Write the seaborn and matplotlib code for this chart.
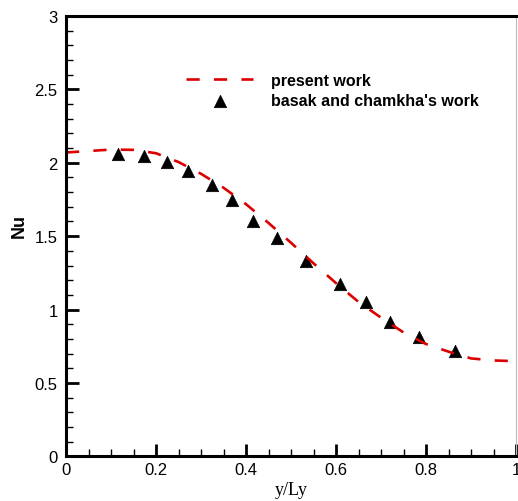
import matplotlib
matplotlib.use('Agg')
import matplotlib.pyplot as plt
from matplotlib.ticker import MultipleLocator
import seaborn as sns

# present work: Nu along the wall (dashed curve)
present_x = [0.0, 0.05, 0.1, 0.15, 0.2, 0.25, 0.3, 0.35, 0.4, 0.45, 0.5,
             0.55, 0.6, 0.65, 0.7, 0.75, 0.8, 0.85, 0.9, 0.95, 1.0]
present_nu = [2.070, 2.080, 2.090, 2.088, 2.065, 2.005, 1.925, 1.830, 1.718,
              1.590, 1.455, 1.315, 1.180, 1.052, 0.945, 0.844, 0.765, 0.713,
              0.667, 0.653, 0.648]

# basak and chamkha's work (triangles)
basak_x = [0.115, 0.173, 0.225, 0.272, 0.324, 0.368, 0.416, 0.468,
           0.534, 0.608, 0.667, 0.719, 0.784, 0.864]
basak_nu = [2.063, 2.048, 2.003, 1.943, 1.847, 1.745, 1.604, 1.488,
            1.330, 1.176, 1.052, 0.915, 0.812, 0.718]

x_ticks = [0, 0.2, 0.4, 0.6, 0.8, 1.0]
x_labels = ['0', '0.2', '0.4', '0.6', '0.8', '1']
y_ticks = [0, 0.5, 1.0, 1.5, 2.0, 2.5, 3.0]
y_labels = ['0', '0.5', '1', '1.5', '2', '2.5', '3']

sns.set_style('white')
plt.rcParams['font.family'] = ['Liberation Sans', 'DejaVu Sans']
plt.rcParams['text.color'] = 'black'
plt.rcParams['axes.labelcolor'] = 'black'

fig = plt.figure(figsize=(5.18, 5.02), dpi=100)
ax = fig.add_axes([66 / 518, (502 - 457.3) / 502, 450 / 518, (457.3 - 17) / 502])

sns.lineplot(x=present_x, y=present_nu, ax=ax, color='#dd0000', lw=1.9,
             linestyle=(0, (5.0, 5.4)), label='present work')
sns.scatterplot(x=basak_x, y=basak_nu, ax=ax, marker='^', color='black',
                s=80, edgecolor='black', linewidth=0.5,
                label="basak and chamkha's work")

ax.set_xlim(0, 1)
ax.set_ylim(0, 3)
ax.set_xticks(x_ticks)
ax.set_xticklabels(x_labels)
ax.set_yticks(y_ticks)
ax.set_yticklabels(y_labels)
ax.xaxis.set_minor_locator(MultipleLocator(0.05))
ax.yaxis.set_minor_locator(MultipleLocator(0.1))

ax.tick_params(which='major', direction='in', length=9, width=2, labelsize=12,
               colors='black', bottom=True, left=True)
ax.tick_params(axis='x', which='major', pad=4)
ax.tick_params(axis='y', which='major', pad=6)
ax.tick_params(which='minor', direction='in', length=5, width=1,
               colors='black', bottom=True, left=True)

for side in ['left', 'bottom', 'top']:
    ax.spines[side].set_linewidth(2.2)
    ax.spines[side].set_color('black')
ax.spines['right'].set_linewidth(0.8)
ax.spines['right'].set_color('#bbbbbb')

ax.set_xlabel('y/Ly', family=['Liberation Serif'], fontsize=13)
ax.xaxis.set_label_coords(0.5, -0.055)
ax.set_ylabel('Nu', fontsize=13, fontweight='bold')
ax.yaxis.set_label_coords(-0.084, 0.525)

ax.legend(loc='upper left', bbox_to_anchor=(186 / 518, 1 - 74 / 502),
          bbox_transform=fig.transFigure, frameon=False, borderpad=0,
          borderaxespad=0, handlelength=4.2, handletextpad=1.1,
          labelspacing=0.3, labelcolor='black',
          prop={'weight': 'bold', 'size': 11.5})

fig.savefig('out.png', dpi=100)
